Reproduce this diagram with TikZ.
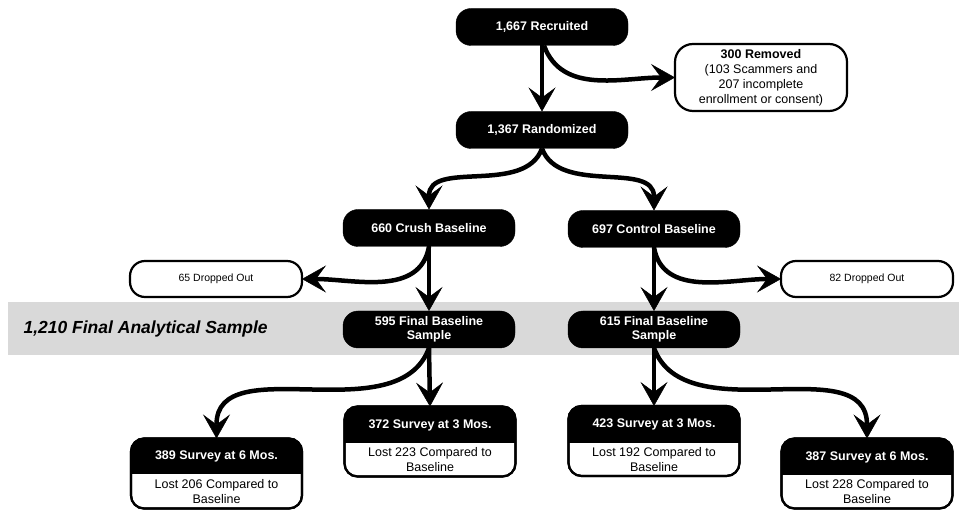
\documentclass[tikz,border=0pt]{standalone}
\usepackage{fontspec}
\setmainfont{Liberation Sans}
\usetikzlibrary{arrows.meta}
\newcommand\svbox[5]{%
  \node[survey] (#1) at (#2) {};
  \begin{scope}
    \clip[rounded corners=13pt] (#1.south west) rectangle (#1.north east);
    \fill[black] (#1.north west) rectangle ([yshift=-#5]#1.north east);
  \end{scope}
  \draw[line width=2.2pt, rounded corners=13pt] (#1.south west) rectangle (#1.north east);
  \node[font=\fontsize{12.5}{15}\selectfont\bfseries, text=white] (#1h) at ([yshift=-#5/2]#1.north) {#3};
  \node[font=\fontsize{12.5}{15}\selectfont] (#1b) at ([yshift=-#5/2-35pt]#1.north) {#4};
}
\begin{document}
\begin{tikzpicture}[x=1pt,y=-1pt,
  every node/.style={font=\fontsize{12.5}{15}\selectfont, align=center},
  dark/.style={fill=black, draw=black, text=white, font=\fontsize{12.5}{14}\selectfont\bfseries,
    rounded corners=15pt, minimum width=172pt, minimum height=37pt, inner sep=1pt, outer sep=0pt},
  light/.style={fill=white, draw=black, line width=2.2pt, rounded corners=15pt,
    minimum width=172pt, minimum height=36pt, inner sep=1pt, outer sep=0pt},
  survey/.style={fill=white, draw=black, line width=2.2pt, rounded corners=13pt,
    minimum width=171pt, minimum height=70pt, inner sep=0pt, outer sep=0pt},
  flow/.style={line width=4.5pt, -{Stealth[length=24pt,width=27pt,inset=10pt,line width=0.5pt]}},
]
\useasboundingbox (0,0) rectangle (959,510);

% gray band
\fill[gray!30] (8,302) rectangle (959,355);
\node[anchor=west, font=\fontsize{17.5}{20}\selectfont\bfseries\itshape] (fas) at (20,329) {1,210 Final Analytical Sample};

% nodes
\node[dark] (rec) at (542,27) {1,667 Recruited};
\node[light, minimum height=67pt, rounded corners=18pt] (rem) at (761,77.5)
  {\textbf{300 Removed}\\(103 Scammers and\\207 incomplete\\enrollment or consent)};
\node[dark] (rand) at (542,130) {1,367 Randomized};
\node[dark] (crush) at (429,228) {660 Crush Baseline};
\node[dark] (ctrl) at (654,229) {697 Control Baseline};
\node[light, font=\fontsize{10.5}{12}\selectfont] (d65) at (216,279) {65 Dropped Out};
\node[light, font=\fontsize{10.5}{12}\selectfont] (d82) at (867,279) {82 Dropped Out};
\node[dark] (f595) at (429,329.5) {595 Final Baseline\\Sample};
\node[dark] (f615) at (654,329.5) {615 Final Baseline\\Sample};

\svbox{s389}{216.5,473.5}{389 Survey at 6 Mos.}{Lost 206 Compared to\\Baseline}{36pt}
\svbox{s372}{430,441.5}{372 Survey at 3 Mos.}{Lost 223 Compared to\\Baseline}{37pt}
\svbox{s423}{654,441}{423 Survey at 3 Mos.}{Lost 192 Compared to\\Baseline}{37pt}
\svbox{s387}{867,473.5}{387 Survey at 6 Mos.}{Lost 228 Compared to\\Baseline}{37pt}

% connectors
\draw[flow] (rec.south) -- (rand.north);
\draw[flow] ([xshift=2pt]rec.south) to[out=-70,in=180] (rem.west);
\draw[flow] (rand.south) to[out=-110,in=90] (crush.north);
\draw[flow] (rand.south) to[out=-70,in=90] (ctrl.north);
\draw[flow] (crush.south) -- (f595.north);
\draw[flow] (crush.south) to[out=-100,in=0] (d65.east);
\draw[flow] (ctrl.south) -- (f615.north);
\draw[flow] (ctrl.south) to[out=-80,in=180] (d82.west);
\draw[flow] (f595.south) -- (s372.north);
\draw[flow] (f595.south) to[out=-110,in=90] (s389.north);
\draw[flow] (f615.south) -- (s423.north);
\draw[flow] (f615.south) to[out=-70,in=90] (s387.north);
\end{tikzpicture}
\end{document}
